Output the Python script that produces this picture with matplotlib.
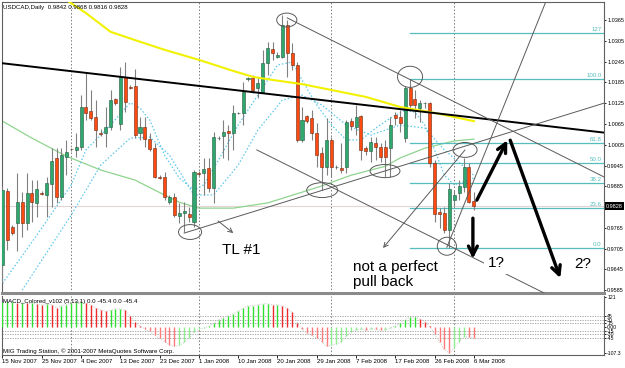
import matplotlib
matplotlib.use('Agg')
import numpy as np
import matplotlib.pyplot as plt
from matplotlib.patches import Ellipse

plt.rcParams['font.family'] = ['Liberation Sans', 'DejaVu Sans']

SYMBOL_TITLE = 'USDCAD,Daily  0.9842 0.9868 0.9816 0.9828'
MACD_TITLE = 'MACD_Colored_v102 (5,13,1) 0.0 -45.4 0.0 -45.4'
COPYRIGHT = 'MIG Trading Station, \u00a9 2001-2007 MetaQuotes Software Corp.'

# daily candles, 15 Nov 2007 .. 6 Mar 2008 (Sunday bars included)
opens = [0.9657, 0.9871, 0.9767, 0.9779, 0.9839, 0.9779, 0.9865, 0.9836, 0.9865, 0.9860,
         0.9891, 0.9967, 0.9854, 0.9969, 0.9993, 0.9990, 0.9998, 1.0114, 1.0102, 1.0085,
         1.0039, 1.0039, 1.0056, 1.0137, 1.0065, 1.0201, 1.0172, 1.0175, 1.0039, 1.0056,
         1.0021, 0.9995, 0.9912, 0.9912, 0.9839, 0.9854, 0.9799, 0.9808, 0.9805, 0.9782,
         0.9923, 0.9923, 0.9938, 0.9880, 1.0024, 1.0030, 1.0045, 1.0039, 1.0097, 1.0097,
         1.0195, 1.0198, 1.0169, 1.0157, 1.0241, 1.0281, 1.0258, 1.0258, 1.0351, 1.0270,
         1.0235, 1.0019, 1.0088, 1.0082, 1.0039, 0.9981, 0.9941, 1.0019, 0.9941, 0.9938,
         0.9941, 1.0073, 1.0056, 1.0088, 0.9995, 0.9987, 1.0010, 0.9998, 0.9998, 0.9995,
         1.0091, 1.0085, 1.0024, 1.0169, 1.0137, 1.0111, 1.0125, 1.0125, 0.9952, 0.9811,
         0.9808, 0.9759, 0.9845, 0.9865, 0.9883, 0.9941, 0.9842]
highs = [0.9886, 0.9880, 0.9773, 0.9923, 0.9868, 0.9923, 0.9903, 0.9903, 0.9870, 0.9912,
         0.9995, 0.9995, 0.9995, 1.0019, 0.9996, 1.0039, 1.0149, 1.0212, 1.0163, 1.0134,
         1.0050, 1.0114, 1.0163, 1.0140, 1.0229, 1.0244, 1.0178, 1.0224, 1.0085, 1.0085,
         1.0039, 1.0010, 0.9917, 0.9926, 0.9859, 0.9865, 0.9836, 0.9839, 0.9825, 0.9932,
         0.9929, 0.9967, 0.9967, 1.0042, 1.0030, 1.0076, 1.0062, 1.0120, 1.0100, 1.0186,
         1.0201, 1.0206, 1.0201, 1.0278, 1.0302, 1.0302, 1.0273, 1.0380, 1.0365, 1.0299,
         1.0244, 1.0114, 1.0091, 1.0105, 1.0068, 0.9998, 1.0082, 1.0027, 0.9947, 1.0010,
         1.0076, 1.0082, 1.0120, 1.0091, 1.0001, 1.0027, 1.0027, 1.0010, 1.0019, 1.0085,
         1.0100, 1.0105, 1.0175, 1.0195, 1.0163, 1.0134, 1.0128, 1.0128, 0.9961, 0.9822,
         0.9825, 0.9894, 0.9874, 0.9903, 0.9967, 0.9952, 0.9868]
lows = [0.9605, 0.9701, 0.9744, 0.9698, 0.9738, 0.9759, 0.9782, 0.9796, 0.9859, 0.9796,
        0.9825, 0.9836, 0.9845, 0.9917, 0.9988, 0.9969, 0.9990, 1.0076, 1.0076, 0.9998,
        1.0030, 0.9998, 1.0047, 1.0119, 1.0047, 1.0099, 1.0166, 1.0024, 1.0019, 0.9998,
        0.9987, 0.9909, 0.9906, 0.9845, 0.9833, 0.9796, 0.9779, 0.9753, 0.9782, 0.9767,
        0.9915, 0.9860, 0.9868, 0.9836, 1.0018, 0.9967, 0.9961, 0.9990, 1.0094, 1.0062,
        1.0189, 1.0154, 1.0140, 1.0154, 1.0206, 1.0250, 1.0255, 1.0255, 1.0201, 1.0221,
        1.0013, 1.0013, 1.0068, 1.0019, 0.9941, 0.9874, 0.9917, 0.9912, 0.9935, 0.9923,
        0.9923, 1.0047, 1.0033, 0.9961, 0.9975, 0.9955, 0.9961, 0.9955, 0.9912, 0.9912,
        1.0062, 1.0042, 1.0013, 1.0105, 1.0082, 1.0071, 1.0111, 0.9941, 0.9782, 0.9764,
        0.9750, 0.9707, 0.9828, 0.9845, 0.9868, 0.9836, 0.9816]
closes = [0.9874, 0.9730, 0.9750, 0.9839, 0.9779, 0.9865, 0.9839, 0.9877, 0.9862, 0.9894,
          0.9958, 0.9854, 0.9975, 0.9984, 0.9992, 0.9998, 1.0114, 1.0097, 1.0082, 1.0047,
          1.0036, 1.0056, 1.0134, 1.0125, 1.0201, 1.0128, 1.0169, 1.0033, 1.0056, 1.0021,
          0.9993, 0.9912, 0.9909, 0.9854, 0.9854, 0.9802, 0.9808, 0.9813, 0.9796, 0.9926,
          0.9920, 0.9935, 0.9880, 1.0027, 1.0024, 1.0042, 1.0039, 1.0097, 1.0097, 1.0157,
          1.0198, 1.0163, 1.0183, 1.0241, 1.0284, 1.0270, 1.0264, 1.0351, 1.0270, 1.0235,
          1.0019, 1.0076, 1.0073, 1.0039, 0.9975, 0.9941, 1.0019, 0.9941, 0.9941, 0.9932,
          1.0071, 1.0059, 1.0085, 0.9990, 0.9987, 1.0013, 0.9998, 0.9969, 0.9969, 1.0062,
          1.0082, 1.0068, 1.0169, 1.0120, 1.0120, 1.0125, 1.0125, 0.9952, 0.9805, 0.9805,
          0.9759, 0.9877, 0.9860, 0.9886, 0.9941, 0.9839, 0.9828]

date_labels = ['15 Nov 2007', '25 Nov 2007', '4 Dec 2007', '13 Dec 2007', '23 Dec 2007',
               '1 Jan 2008', '10 Jan 2008', '20 Jan 2008', '29 Jan 2008', '7 Feb 2008',
               '17 Feb 2008', '26 Feb 2008', '6 Mar 2008']
LABEL_STEP = 8
month_start_bars = [14, 40, 67, 92]

price_ticks = [0.9585, 0.9645, 0.9705, 0.9765, 0.9885, 0.9945, 1.0005, 1.0065,
               1.0125, 1.0185, 1.0245, 1.0305, 1.0365]
last_price = 0.9828

# moving averages
yellow_bars = [13, 17, 22, 27, 33, 40, 47, 51, 55, 61, 67, 74, 81, 88, 96]
yellow_vals = [1.0423, 1.0385, 1.0331, 1.0307, 1.0279, 1.0250, 1.0218, 1.0201, 1.0192,
               1.0180, 1.0163, 1.0143, 1.0114, 1.0097, 1.0073]
green_bars = [0, 6, 13, 20, 27, 31, 36, 40, 47, 54, 61, 65, 71, 78, 81, 86, 92, 96]
green_vals = [1.0073, 1.0024, 0.9972, 0.9932, 0.9903, 0.9874, 0.9839, 0.9822, 0.9822,
              0.9837, 0.9868, 0.9886, 0.9917, 0.9943, 0.9967, 0.9995, 1.0016, 1.0021]
cyan1_bars = [0, 7, 14, 17, 22, 26, 28, 30, 33, 36, 39, 41, 44, 48, 52, 56, 59, 61,
              64, 67, 70, 73, 76, 79, 82, 84, 86, 88, 90, 92, 95, 96]
cyan1_vals = [0.9605, 0.9744, 0.9889, 0.9990, 1.0062, 1.0126, 1.0111, 1.0076, 0.9975,
              0.9909, 0.9874, 0.9889, 0.9961, 1.0062, 1.0148, 1.0235, 1.0244, 1.0192,
              1.0120, 1.0062, 1.0019, 1.0019, 1.0053, 1.0082, 1.0105, 1.0099, 1.0062,
              0.9990, 0.9917, 0.9889, 0.9903, 0.9909]
cyan2_bars = [4, 14, 20, 26, 30, 34, 39, 43, 48, 52, 57, 61, 65, 70, 75, 81, 86, 90, 96]
cyan2_vals = [0.9585, 0.9802, 0.9946, 1.0024, 1.0027, 0.9975, 0.9860, 0.9860, 0.9946,
              1.0047, 1.0134, 1.0148, 1.0120, 1.0062, 1.0033, 1.0062, 1.0053, 0.9990,
              0.9917]

# hand drawn objects: (bar, price) anchors
black_line = [(-0.5, 1.0241), (122.5, 1.0040)]
gray_lines = [
    [(58.0, 1.0371), (122.5, 0.9912)],
    [(51.8, 0.9990), (112.0, 0.9565)],
    [(37.0, 0.9750), (122.5, 1.0125)],
    [(90.5, 0.9709), (111.0, 1.0430)],
]
gray_arrows = [
    [(94.2, 0.9990), (77.5, 0.9707)],
    [(43.9, 0.9785), (47.0, 0.9750)],
]
big_arrows = [
    [(96.6, 0.9845), (102.8, 1.0018)],
    [(103.4, 1.0018), (113.6, 0.9620)],
    [(95.8, 0.9793), (95.8, 0.9676)],
]
ellipses = [
    (57.9, 1.0365, 4.1, 0.0040), (83.0, 1.0201, 5.1, 0.0061), (77.9, 0.9929, 6.1, 0.0038),
    (65.1, 0.9874, 6.3, 0.0043), (38.2, 0.9753, 4.7, 0.0043), (90.5, 0.9712, 3.9, 0.0052),
    (94.2, 0.9990, 4.9, 0.0043),
]

fib_start_bar = 83
fib_low = 0.9707
fib_high = 1.0195
fib_levels = [0.0, 23.6, 38.2, 50.0, 61.8, 100.0, 127.0]
fib_names = ['0.0', '23.6', '38.2', '50.0', '61.8', '100.0', '127']

macd_hist = [104, 104, 104, 100, 100, 97, 97, 95, 91, 95, 91, 77, 87, 91, 97, 104, 104, 97,
             91, 77, 71, 64, 68, 74, 74, 68, 45, 21, 3, -8, -18, -34, -47, -60, -74, -80,
             -76, -63, -47, -21, -8, -5, 3, 16, 29, 38, 47, 55, 64, 77, 87, 87, 91, 95, 95,
             91, 91, 87, 77, 60, 18, -8, -25, -35, -45, -60, -80, -75, -70, -60, -38, -22,
             -12, -10, -14, -8, -9, -14, -12, -5, 5, 15, 30, 40, 40, 33, 22, 2, -28, -60,
             -92, -107, -85, -60, -40, -42, -45.4]
macd_levels = [45, 30, 15, -15, -30, -45]
macd_ticks = [121, 45, 30, 15, 0, -15, -30, -45, -107.3]
macd_tick_labels = ['121', '45', '30', '15', '0.00', '-15', '-30', '-45', '-107.3']

W, H = 625, 368
SMALL = 4.4
AXIS_FS = 4.0
BULL = '#2fa870'
BEAR = '#ff4a12'

fig = plt.figure(figsize=(W / 100, H / 100), dpi=100)
fig.patch.set_facecolor('white')


def px_box(left, top, right, bottom):
    return [left / W, 1 - bottom / H, (right - left) / W, (bottom - top) / H]


ax = fig.add_axes(px_box(2, 2, 604, 293))
mx = fig.add_axes(px_box(2, 296, 604, 355), sharex=ax)

x = np.arange(len(opens))
o = np.array(opens)
c = np.array(closes)
up = c >= o

# month grid
for a in (ax, mx):
    for b in month_start_bars:
        a.axvline(b, color='#7a7a7a', lw=0.7, ls=(0, (1.5, 2)), zorder=1)

ax.axhline(last_price, color='#e4d4d4', lw=0.8, zorder=1)

# indicators
ax.plot(green_bars, green_vals, color='#8fd48f', lw=0.9, zorder=2)
ax.plot(cyan1_bars, cyan1_vals, color='#5cc8ec', lw=0.9, ls=(0, (1.2, 1.6)), zorder=2)
ax.plot(cyan2_bars, cyan2_vals, color='#5cc8ec', lw=0.9, ls=(0, (1.2, 1.6)), zorder=2)

# fibonacci
for lev, name in zip(fib_levels, fib_names):
    p = fib_low + (fib_high - fib_low) * lev / 100.0
    ax.plot([fib_start_bar, 122.5], [p, p], color='#55bdbd', lw=0.9, zorder=2)
    ax.text(122.0, p + 0.0004, name, color='#55bdbd', fontsize=SMALL, ha='right', va='bottom',
            zorder=2)

# candles
ax.vlines(x, lows, highs, color='#808080', lw=0.8, zorder=3)
ax.bar(x[up], (c - o)[up], bottom=o[up], width=0.62, color=BULL, edgecolor='#25583f',
       lw=0.4, zorder=4)
ax.bar(x[~up], (c - o)[~up], bottom=o[~up], width=0.62, color=BEAR, edgecolor='#6b2a10',
       lw=0.4, zorder=4)

ax.plot(yellow_bars, yellow_vals, color='#f2f200', lw=1.5, zorder=5)

(x0, y0), (x1, y1) = black_line
ax.plot([x0, x1], [y0, y1], color='black', lw=1.4, zorder=6)

for line in gray_lines:
    ax.plot([p[0] for p in line], [p[1] for p in line], color='#5a5a5a', lw=0.7, zorder=6)
for (sx, sy), (ex, ey) in gray_arrows:
    ax.annotate('', xy=(ex, ey), xytext=(sx, sy),
                arrowprops=dict(arrowstyle='->', color='#5a5a5a', lw=0.7,
                                mutation_scale=8, shrinkA=0, shrinkB=0), zorder=6)
for cx, cy, w, h in ellipses:
    ax.add_patch(Ellipse((cx, cy), w, h, fill=False, edgecolor='#5a5a5a', lw=0.7, zorder=6))

box = dict(facecolor='white', edgecolor='none', pad=2)
ax.text(44.7, 0.9701, 'TL #1', fontsize=11, ha='left', va='center', bbox=box, zorder=7)
ax.text(71.4, 0.9631, 'not a perfect\npull back', fontsize=11, ha='left', va='center',
        linespacing=1.1, bbox=box, zorder=7)
ax.text(98.9, 0.9664, '1?', fontsize=11, ha='left', va='center',
        bbox=dict(facecolor='white', edgecolor='none', pad=3), zorder=7)
ax.text(116.4, 0.9660, '2?', fontsize=11, ha='left', va='center',
        bbox=dict(facecolor='white', edgecolor='none', pad=3), zorder=7)

for (sx, sy), (ex, ey) in big_arrows:
    ax.annotate('', xy=(ex, ey), xytext=(sx, sy),
                arrowprops=dict(arrowstyle='->', color='black', lw=2.4,
                                mutation_scale=16, shrinkA=0, shrinkB=0), zorder=8)

ax.set_xlim(-0.1, 122.5)
ax.set_ylim(0.9577, 1.0417)
ax.yaxis.tick_right()
ax.set_yticks(price_ticks)
ax.set_yticklabels(['%.4f' % t for t in price_ticks])
ax.tick_params(axis='y', labelsize=AXIS_FS, length=1.5, pad=0.8, colors='black', width=0.6)
ax.tick_params(axis='x', bottom=False, labelbottom=False)
ax.text(1.003, last_price, '%.4f' % last_price, transform=ax.get_yaxis_transform(),
        fontsize=AXIS_FS, color='white', ha='left', va='center',
        bbox=dict(facecolor='black', edgecolor='none', pad=0.8), zorder=9, clip_on=False)
for s in ax.spines.values():
    s.set_color('#606060')
    s.set_linewidth(0.8)
ax.spines['bottom'].set_color('#8a8a8a')
ax.spines['bottom'].set_linewidth(2.2)

# MACD panel
hist = np.array(macd_hist, dtype=float)
prev = np.concatenate([[hist[0]], hist[:-1]])
colors = []
for v, pv in zip(hist, prev):
    rising = v >= pv
    if v >= 0:
        colors.append('#2fe02f' if rising else '#ee2a2a')
    else:
        colors.append('#8ff08f' if rising else '#ff7a7a')
mx.vlines(x, 0, hist, colors=colors, lw=1.0, zorder=3)
mx.plot(x, hist, color='#c8c8c8', lw=0.7, ls=(0, (1, 1.5)), zorder=2)
for lev in macd_levels:
    mx.axhline(lev, color='#9a9a9a', lw=0.6, ls=(0, (1.5, 1.5)), zorder=1)
mx.set_ylim(-115, 127)
mx.yaxis.tick_right()
mx.set_yticks(macd_ticks)
mx.set_yticklabels(macd_tick_labels)
mx.tick_params(axis='y', labelsize=AXIS_FS - 0.3, length=1.5, pad=0.8, width=0.6)
mx.set_xticks(x[::LABEL_STEP])
mx.set_xticklabels(date_labels, ha='left')
mx.tick_params(axis='x', labelsize=SMALL, length=2, pad=1, width=0.6)
for s in mx.spines.values():
    s.set_color('#606060')
    s.set_linewidth(0.8)
mx.spines['top'].set_visible(False)

fig.text(3 / W, 1 - 7 / H, SYMBOL_TITLE, fontsize=SMALL, ha='left', va='center')
fig.text(3 / W, 1 - 301 / H, MACD_TITLE, fontsize=SMALL, ha='left', va='center')
fig.text(3 / W, 1 - 351 / H, COPYRIGHT, fontsize=SMALL, ha='left', va='center')

fig.savefig('out.png', dpi=100)
